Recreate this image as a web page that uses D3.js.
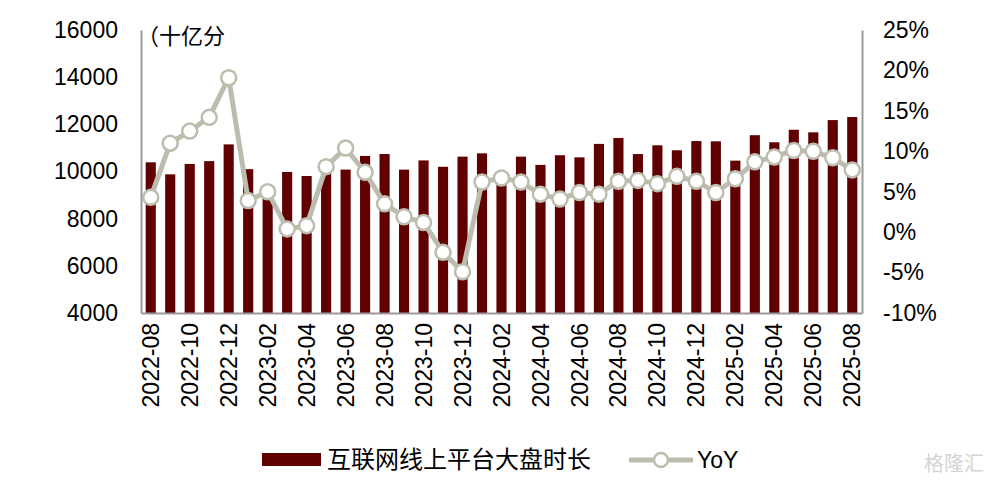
<!DOCTYPE html>
<html>
<head>
<meta charset="utf-8">
<script src="https://cdn.jsdelivr.net/npm/d3@7"></script>
<style>
    body { margin: 0; background: #fff; }
    svg { display: block; }
    text { font-family: "Liberation Sans", Arial, sans-serif; fill: #000; }
    .cjk { font-family: "Noto Sans CJK SC", sans-serif; }
</style>
</head>
<body>
<svg id="chart"></svg>
<script>
// months 2022-08 .. 2025-08
const months = [
    '2022-08', '2022-09', '2022-10', '2022-11', '2022-12',
    '2023-01', '2023-02', '2023-03', '2023-04', '2023-05', '2023-06',
    '2023-07', '2023-08', '2023-09', '2023-10', '2023-11', '2023-12',
    '2024-01', '2024-02', '2024-03', '2024-04', '2024-05', '2024-06',
    '2024-07', '2024-08', '2024-09', '2024-10', '2024-11', '2024-12',
    '2025-01', '2025-02', '2025-03', '2025-04', '2025-05', '2025-06',
    '2025-07', '2025-08'
];

// 互联网线上平台大盘时长 (十亿分)
const duration = [
    10390, 9880, 10320, 10440, 11150,
    10100, 9000, 9980, 9810, 10000, 10080,
    10660, 10740, 10080, 10470, 10200, 10630,
    10770, 9900, 10630, 10280, 10690, 10600,
    11170, 11420, 10740, 11110, 10900, 11290,
    11280, 10460, 11540, 11240, 11770, 11660,
    12180, 12310
];

// YoY (%)
const yoy = [
    4.3, 11.0, 12.5, 14.2, 19.1,
    3.9, 5.0, 0.4, 0.8, 8.1, 10.4,
    7.4, 3.5, 1.9, 1.2, -2.5, -4.9,
    6.2, 6.7, 6.2, 4.7, 4.1, 4.9,
    4.7, 6.3, 6.4, 6.0, 6.9, 6.3,
    4.9, 6.6, 8.7, 9.3, 10.1, 10.0,
    9.2, 7.7
];

const leftTicks = [4000, 6000, 8000, 10000, 12000, 14000, 16000];
const rightTicks = [-10, -5, 0, 5, 10, 15, 20, 25];
const barLabel = '互联网线上平台大盘时长';
const lineLabel = 'YoY';
const unitLabel = '（十亿分';

const width = 989, height = 489;
const margin = {top: 30, right: 127, bottom: 176, left: 141};
const barColor = '#600000';
const lineColor = '#bdbdaf';
const axisColor = '#9a9a9a';

const svg = d3.select('#chart')
    .attr('width', width)
    .attr('height', height);

const x = d3.scaleBand()
    .domain(months)
    .range([margin.left, width - margin.right])
    .paddingInner(0.48)
    .paddingOuter(0.24);

const yLeft = d3.scaleLinear()
    .domain([4000, 16000])
    .range([height - margin.bottom, margin.top]);

const yRight = d3.scaleLinear()
    .domain([-10, 25])
    .range([height - margin.bottom, margin.top]);

// bars
svg.append('g')
    .selectAll('rect')
    .data(duration)
    .join('rect')
    .attr('x', (d, i) => x(months[i]))
    .attr('y', d => yLeft(d))
    .attr('width', x.bandwidth())
    .attr('height', d => yLeft(4000) - yLeft(d))
    .attr('fill', barColor);

// axes
const leftAxis = svg.append('g')
    .attr('transform', `translate(${margin.left},0)`)
    .call(d3.axisLeft(yLeft).tickValues(leftTicks).tickSize(0).tickPadding(23)
        .tickFormat(d3.format('d')));

const rightAxis = svg.append('g')
    .attr('transform', `translate(${width - margin.right},0)`)
    .call(d3.axisRight(yRight).tickValues(rightTicks).tickSize(0).tickPadding(21)
        .tickFormat(d => d + '%'));

const bottomAxis = svg.append('g')
    .attr('transform', `translate(0,${height - margin.bottom})`)
    .call(d3.axisBottom(x).tickValues(months.filter((m, i) => i % 2 === 0)).tickSize(0));

[leftAxis, rightAxis, bottomAxis].forEach(g => {
    g.select('.domain').attr('stroke', axisColor).attr('stroke-width', 2);
    g.selectAll('text')
        .style('font-family', '"Liberation Sans", Arial, sans-serif')
        .style('font-size', '23px')
        .attr('fill', '#000');
});

bottomAxis.selectAll('text')
    .attr('transform', 'rotate(-90)')
    .attr('text-anchor', 'end')
    .attr('dy', '0.35em')
    .attr('x', -10)
    .attr('y', 0);

// YoY line
const line = d3.line()
    .x((d, i) => x(months[i]) + x.bandwidth() / 2)
    .y(d => yRight(d));

svg.append('path')
    .datum(yoy)
    .attr('d', line)
    .attr('fill', 'none')
    .attr('stroke', lineColor)
    .attr('stroke-width', 5)
    .attr('stroke-linejoin', 'round');

svg.append('g')
    .selectAll('circle')
    .data(yoy)
    .join('circle')
    .attr('cx', (d, i) => x(months[i]) + x.bandwidth() / 2)
    .attr('cy', d => yRight(d))
    .attr('r', 7.5)
    .attr('fill', '#fff')
    .attr('stroke', lineColor)
    .attr('stroke-width', 2.5);

// unit label
svg.append('text')
    .attr('class', 'cjk')
    .attr('x', 137)
    .attr('y', 44)
    .style('font-size', '22px')
    .text(unitLabel);

// legend
const legend = svg.append('g');
legend.append('rect')
    .attr('x', 262).attr('y', 453)
    .attr('width', 59).attr('height', 13)
    .attr('fill', barColor);
legend.append('text')
    .attr('class', 'cjk')
    .attr('x', 327).attr('y', 468)
    .style('font-size', '24px')
    .text(barLabel);

legend.append('line')
    .attr('x1', 629).attr('x2', 693)
    .attr('y1', 460).attr('y2', 460)
    .attr('stroke', lineColor)
    .attr('stroke-width', 5);
legend.append('circle')
    .attr('cx', 661).attr('cy', 460).attr('r', 7)
    .attr('fill', '#fff')
    .attr('stroke', lineColor)
    .attr('stroke-width', 2.5);
legend.append('text')
    .attr('x', 697).attr('y', 468)
    .style('font-size', '23px')
    .text(lineLabel);

// watermark
svg.append('text')
    .attr('class', 'cjk')
    .attr('x', 984).attr('y', 471)
    .attr('text-anchor', 'end')
    .style('font-size', '20px')
    .style('fill', '#d4d4d4')
    .text('格隆汇');
</script>
</body>
</html>
